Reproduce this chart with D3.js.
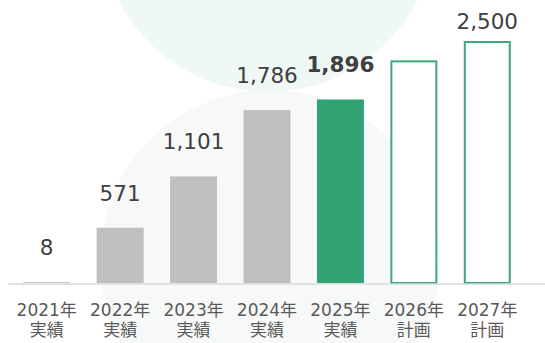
<!DOCTYPE html>
<html>
<head>
<meta charset="utf-8">
<script src="https://cdn.jsdelivr.net/npm/d3@7"></script>
<style>
  html, body { margin: 0; padding: 0; background: #fff; }
  svg { display: block; }
</style>
</head>
<body>
<svg id="chart" width="545" height="343"></svg>
<script>
// Yearly figures: actual results 2021–2025, plan for 2026–2027
const years = ["2021年", "2022年", "2023年", "2024年", "2025年", "2026年", "2027年"];
const kinds = ["実績", "実績", "実績", "実績", "実績", "計画", "計画"];
const values = [8, 571, 1101, 1786, 1896, 2300, 2500];
const valueLabels = ["8", "571", "1,101", "1,786", "1,896", "", "2,500"];
const barStyle = ["past", "past", "past", "past", "current", "plan", "plan"];

const W = 545, H = 343;
const svg = d3.select("#chart");
const green = "#33a376";

// soft decorative circles in the background
svg.append("circle").attr("cx", 268).attr("cy", -76).attr("r", 168).attr("fill", "#eff8f4");
svg.append("circle").attr("cx", 270).attr("cy", 260).attr("r", 170).attr("fill", "#f7f9f9");

const x = d3.scaleBand()
  .domain(years)
  .range([10, 524])
  .paddingInner(0.36)
  .paddingOuter(0.18);

const y = d3.scaleLinear()
  .domain([0, 2500])
  .range([283, 41]);

const data = years.map((yr, i) => ({
  year: yr, kind: kinds[i], value: values[i], label: valueLabels[i], style: barStyle[i]
}));

// bars
const bars = svg.append("g");
bars.selectAll("rect.fill")
  .data(data.filter(d => d.style !== "plan"))
  .join("rect")
  .attr("class", "fill")
  .attr("x", d => x(d.year))
  .attr("width", x.bandwidth())
  .attr("y", d => y(d.value))
  .attr("height", d => y(0) - y(d.value))
  .attr("fill", d => d.style === "current" ? green : "#bfbfbf");

bars.selectAll("rect.plan")
  .data(data.filter(d => d.style === "plan"))
  .join("rect")
  .attr("class", "plan")
  .attr("x", d => x(d.year) + 1)
  .attr("width", x.bandwidth() - 2)
  .attr("y", d => y(d.value) + 1)
  .attr("height", d => y(0) - y(d.value) - 1)
  .attr("fill", "#fff")
  .attr("stroke", "#3ea87b")
  .attr("stroke-width", 2);

// baseline
svg.append("line")
  .attr("x1", 8).attr("x2", W)
  .attr("y1", 284).attr("y2", 284)
  .attr("stroke", "#d9d9d9")
  .attr("stroke-width", 1.5);

// value labels
svg.append("g").selectAll("text")
  .data(data.filter(d => d.label !== ""))
  .join("text")
  .attr("x", d => x(d.year) + x.bandwidth() / 2)
  .attr("y", d => Math.max(y(d.value) - 27, 29))
  .attr("text-anchor", "middle")
  .attr("font-family", "'DejaVu Sans', Verdana, sans-serif")
  .attr("font-size", 21.5)
  .attr("font-weight", d => d.style === "current" ? "bold" : "normal")
  .attr("fill", "#404040")
  .text(d => d.label);

// category labels (two lines)
const cat = svg.append("g")
  .attr("font-family", "'DejaVu Sans', 'Noto Sans CJK JP', sans-serif")
  .attr("font-size", 17)
  .attr("fill", "#595959")
  .attr("text-anchor", "middle");

cat.selectAll("text.yr")
  .data(data)
  .join("text")
  .attr("class", "yr")
  .attr("x", d => x(d.year) + x.bandwidth() / 2)
  .attr("y", 316)
  .text(d => d.year);

cat.selectAll("text.kind")
  .data(data)
  .join("text")
  .attr("class", "kind")
  .attr("x", d => x(d.year) + x.bandwidth() / 2)
  .attr("y", 336)
  .text(d => d.kind);
</script>
</body>
</html>
